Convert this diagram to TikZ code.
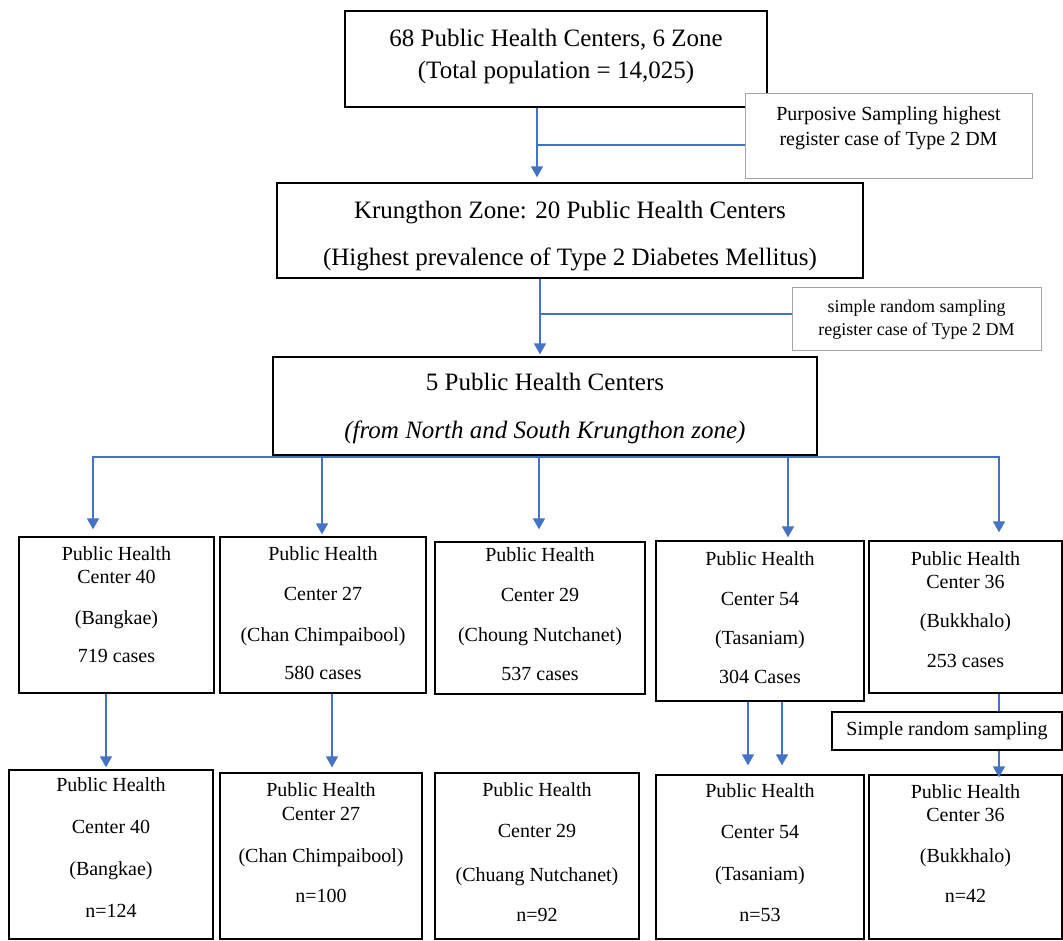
\documentclass[tikz,border=0pt]{standalone}
\usepackage{fontspec}
\setmainfont{Liberation Serif}
\usetikzlibrary{arrows.meta}
\definecolor{flowblue}{RGB}{68, 114, 196}
\definecolor{notegray}{RGB}{165, 165, 165}
% text block of a box: width, height, top gap, lines
\newcommand{\boxtext}[4]{\parbox[c][#2][t]{#1}{\centering\vspace*{#3}#4}}

\begin{document}
\begin{tikzpicture}[
    x=1pt, y=-1pt,
    every node/.style={inner sep=0pt, font=\fontsize{20}{23}\selectfont},
    stage/.style={rectangle, draw=black, line width=1.3pt, fill=white, font=\fontsize{25}{32}\selectfont},
    centre/.style={rectangle, draw=black, line width=1.3pt, fill=white},
    note/.style={rectangle, draw=notegray, line width=1pt, fill=white},
    arrow/.style={-{Triangle[length=11pt, width=12pt]}, draw=flowblue, line width=1.4pt},
    link/.style={draw=flowblue, line width=1.4pt}
]
\useasboundingbox (0,0) rectangle (1063,940);

% Stages
\node[stage] (top) at (556,59) {\boxtext{422pt}{96pt}{18pt}{68 Public Health Centers, 6 Zone\\(Total population = 14,025)}};
\node[stage] (krung) at (570,230.5) {\boxtext{586pt}{95pt}{18pt}{Krungthon Zone: 20 Public Health Centers\\[15pt](Highest prevalence of Type 2 Diabetes Mellitus)}};
\node[stage] (five) at (545,406) {\boxtext{544pt}{98pt}{16pt}{5 Public Health Centers\\[16pt]\textit{(from North and South Krungthon zone)}}};

% Sampling notes
\node[note] (note1) at (888.5,135.5) {\fontsize{20}{25}\selectfont\boxtext{287pt}{85pt}{14pt}{Purposive Sampling highest\\register case of Type 2 DM}};
\node[note] (note2) at (916.5,318.5) {\fontsize{18}{23}\selectfont\boxtext{249pt}{63pt}{13pt}{simple random sampling\\register case of Type 2 DM}};

% Health centers (population)
\node[centre] (b1) at (116.5,615) {\boxtext{195pt}{156pt}{10pt}{Public Health\\Center 40\\[18pt](Bangkae)\\[15pt]719 cases}};
\node[centre] (b2) at (323,615) {\boxtext{206pt}{156pt}{10pt}{Public Health\\[17pt]Center 27\\[18pt](Chan Chimpaibool)\\[15pt]580 cases}};
\node[centre] (b3) at (540,618) {\boxtext{210pt}{152pt}{6pt}{Public Health\\[17pt]Center 29\\[17pt](Choung Nutchanet)\\[16pt]537 cases}};
\node[centre] (b4) at (760,621) {\boxtext{208pt}{160pt}{11pt}{Public Health\\[17pt]Center 54\\[16pt](Tasaniam)\\[16pt]304 Cases}};
\node[centre] (b5) at (965.5,617) {\boxtext{193pt}{152pt}{11pt}{Public Health\\Center 36\\[16pt](Bukkhalo)\\[17pt]253 cases}};

% Health centers (sample)
\node[centre] (c1) at (111,854.5) {\boxtext{204pt}{169pt}{8pt}{Public Health\\[19pt]Center 40\\[19pt](Bangkae)\\[19pt]n=124}};
\node[centre] (c2) at (321,856) {\boxtext{202pt}{166pt}{10pt}{Public Health\\[1pt]Center 27\\[19pt](Chan Chimpaibool)\\[17pt]n=100}};
\node[centre] (c3) at (537,856) {\boxtext{204pt}{166pt}{10pt}{Public Health\\[18pt]Center 29\\[21pt](Chuang Nutchanet)\\[17pt]n=92}};
\node[centre] (c4) at (760,857) {\boxtext{208pt}{164pt}{9pt}{Public Health\\[18pt]Center 54\\[19pt](Tasaniam)\\[18pt]n=53}};
\node[centre] (c5) at (965.5,857) {\boxtext{193pt}{164pt}{10pt}{Public Health\\Center 36\\[18pt](Bukkhalo)\\[17pt]n=42}};

% Arrows between stages
\coordinate (j1) at (537,145);
\coordinate (j2) at (540,314);
\coordinate (bus) at (539,457);
\draw[arrow, shorten >=5pt] (top.south -| j1) -- (krung.north -| j1);
\draw[link] (j1) -- (note1.west |- j1);
\draw[arrow, shorten >=2pt] (krung.south -| j2) -- (five.north -| j2);
\draw[link] (j2) -- (note2.west |- j2);
\draw[link] (five.south -| bus) -- (bus);
\foreach \b/\dx/\gap in {b1/-23.5/7, b2/-1/2, b3/-1/12, b4/28/3, b5/33.5/8}
    \draw[arrow, shorten >=\gap pt] (bus) -| ([xshift=\dx pt]\b.north);

% Arrows to samples
\draw[arrow, shorten >=2pt] ([xshift=-10.5pt]b1.south) -- ([xshift=-10.5pt]b1.south |- c1.north);
\draw[arrow, shorten >=5pt] ([xshift=9pt]b2.south) -- ([xshift=9pt]b2.south |- c2.north);
\draw[arrow, shorten >=9pt] ([xshift=-12pt]b4.south) -- ([xshift=-12pt]b4.south |- c4.north);
\draw[arrow, shorten >=9pt] ([xshift=22pt]b4.south) -- ([xshift=22pt]b4.south |- c4.north);
\draw[arrow, shorten >=-3pt] ([xshift=33.5pt]b5.south) -- ([xshift=33.5pt]b5.south |- c5.north);
\node[centre] (srs) at (947,731) {\boxtext{230pt}{38pt}{10pt}{Simple random sampling}};

\end{tikzpicture}
\end{document}
